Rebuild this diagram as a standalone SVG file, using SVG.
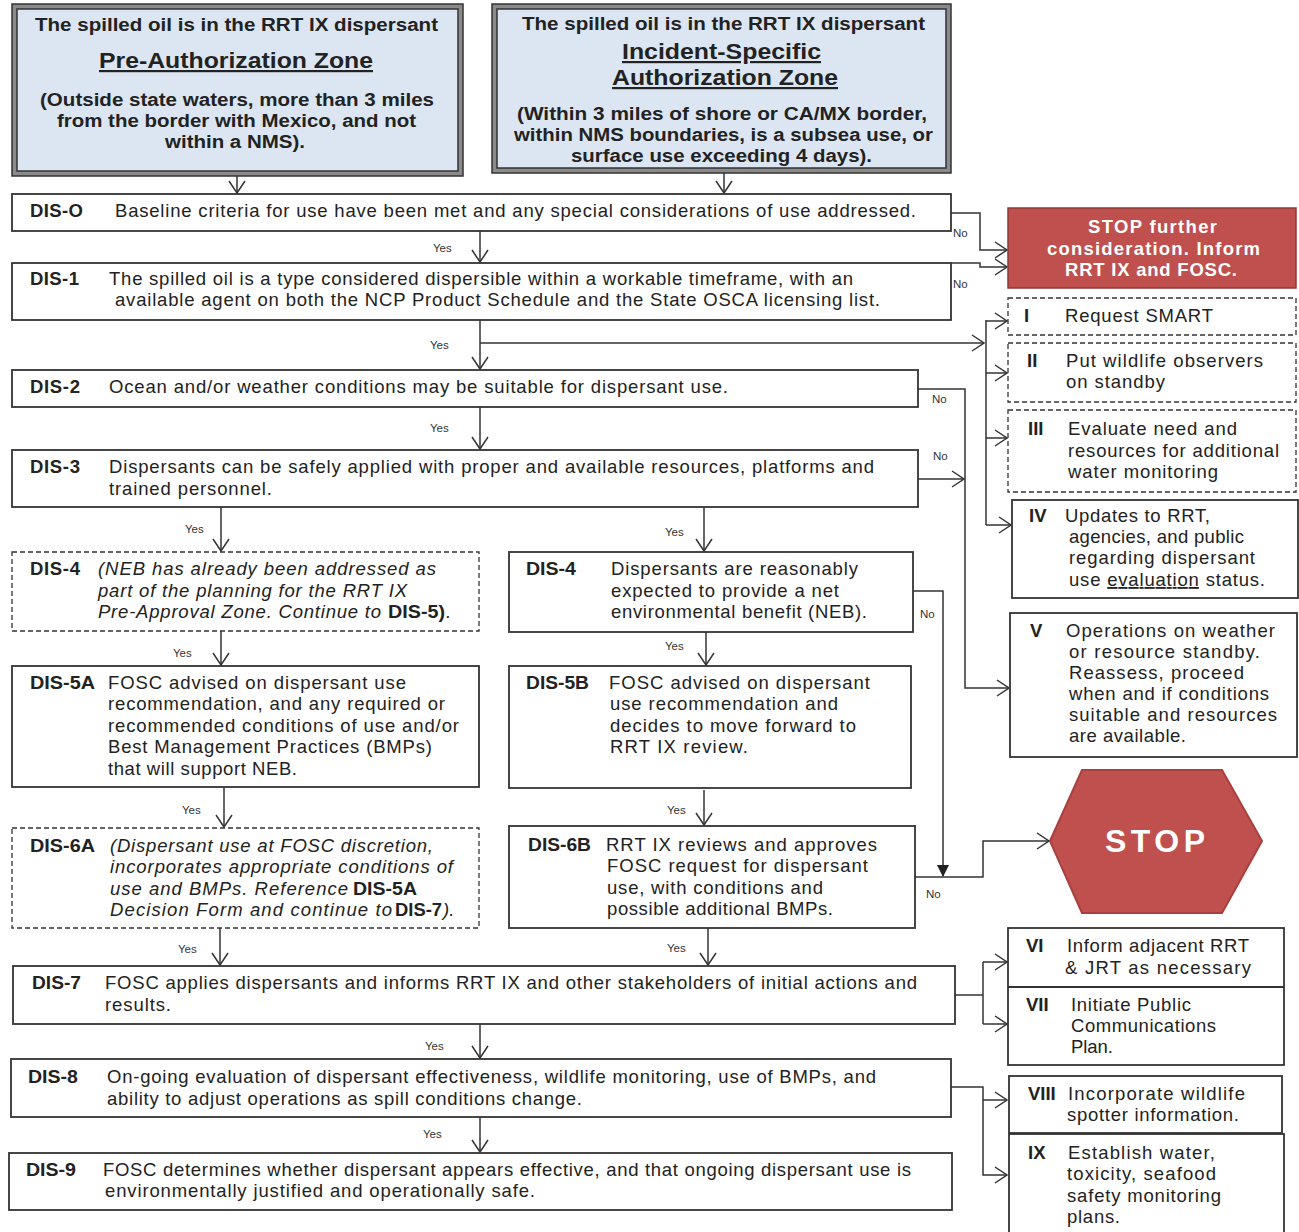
<svg xmlns="http://www.w3.org/2000/svg" width="1299" height="1232" viewBox="0 0 1299 1232">
<defs>
<style>
text{font-family:"Liberation Sans",Arial,sans-serif;font-size:18.5px;fill:#222}
.b{font-weight:bold}
.i{font-style:italic}
.t{font-size:18px;font-weight:bold}
.h{font-size:22px;font-weight:bold;text-decoration:underline}
.w{fill:#fff;font-weight:bold}
.big{font-size:32px}
.s{font-size:11.5px;fill:#333}
.box{fill:#fff;stroke:#333;stroke-width:1.8}
.dbox{fill:#fff;stroke:#333;stroke-width:1.3;stroke-dasharray:5 3}
.c{fill:none;stroke:#333;stroke-width:1.5}
.outer{fill:#8a8a8a;stroke:#333;stroke-width:1.5}
.inner{fill:#dce6f2;stroke:#333;stroke-width:1.5}
</style>
<marker id="a" markerUnits="userSpaceOnUse" viewBox="-1 -1 14 18" markerWidth="14" markerHeight="18" refX="12" refY="8" orient="auto">
<path d="M0,0 L12,8 L0,16" fill="none" stroke="#333" stroke-width="1.5"/>
</marker>
<marker id="f" markerUnits="userSpaceOnUse" viewBox="0 0 12 12" markerWidth="12" markerHeight="12" refX="11" refY="6" orient="auto">
<path d="M0,0 L12,6 L0,12 z" fill="#222"/>
</marker>
</defs>
<rect width="1299" height="1232" fill="#fff"/>

<g id="connectors">
<g class="c">
<path d="M237,176 V193" marker-end="url(#a)"/>
<path d="M724,173 V193" marker-end="url(#a)"/>
<path d="M480,231 V262" marker-end="url(#a)"/>
<path d="M950,213 H980 V250 H1007" marker-end="url(#a)"/>
<path d="M950,263 H980 V267 H1007" marker-end="url(#a)"/>
<path d="M480,320 V369" marker-end="url(#a)"/>
<path d="M480,343 H984" marker-end="url(#a)"/>
<path d="M986,320 V525"/>
<path d="M986,321 H1007" marker-end="url(#a)"/>
<path d="M986,373 H1007" marker-end="url(#a)"/>
<path d="M986,438 H1007" marker-end="url(#a)"/>
<path d="M986,525 H1011" marker-end="url(#a)"/>
<path d="M480,407 V449" marker-end="url(#a)"/>
<path d="M918,389 H965 V688 H1009" marker-end="url(#a)"/>
<path d="M918,479 H964" marker-end="url(#a)"/>
<path d="M221,507 V551" marker-end="url(#a)"/>
<path d="M704,507 V551" marker-end="url(#a)"/>
<path d="M221,631 V665" marker-end="url(#a)"/>
<path d="M706,632 V665" marker-end="url(#a)"/>
<path d="M224,787 V827" marker-end="url(#a)"/>
<path d="M704,790 V825" marker-end="url(#a)"/>
<path d="M913,591 H943 V876" marker-end="url(#f)"/>
<path d="M915,877 H983 V841 H1049" marker-end="url(#a)"/>
<path d="M220,928 V965" marker-end="url(#a)"/>
<path d="M708,928 V965" marker-end="url(#a)"/>
<path d="M955,995 H983"/>
<path d="M983,962 V1024"/>
<path d="M983,962 H1007" marker-end="url(#a)"/>
<path d="M983,1024 H1007" marker-end="url(#a)"/>
<path d="M480,1024 V1058" marker-end="url(#a)"/>
<path d="M951,1087 H983 V1175 H1007" marker-end="url(#a)"/>
<path d="M983,1100 H1007" marker-end="url(#a)"/>
<path d="M480,1117 V1152" marker-end="url(#a)"/>
</g>
<text class="s" x="433" y="252">Yes</text>
<text class="s" x="430" y="349">Yes</text>
<text class="s" x="430" y="432">Yes</text>
<text class="s" x="185" y="533">Yes</text>
<text class="s" x="665" y="536">Yes</text>
<text class="s" x="173" y="657">Yes</text>
<text class="s" x="665" y="650">Yes</text>
<text class="s" x="182" y="814">Yes</text>
<text class="s" x="667" y="814">Yes</text>
<text class="s" x="178" y="953">Yes</text>
<text class="s" x="667" y="952">Yes</text>
<text class="s" x="425" y="1050">Yes</text>
<text class="s" x="423" y="1138">Yes</text>
<text class="s" x="953" y="237">No</text>
<text class="s" x="953" y="288">No</text>
<text class="s" x="932" y="403">No</text>
<text class="s" x="933" y="460">No</text>
<text class="s" x="920" y="618">No</text>
<text class="s" x="926" y="898">No</text>
</g>

<g id="zone-pre">
<rect class="outer" x="12" y="4" width="451" height="172"/>
<rect class="inner" x="17" y="9" width="441" height="162"/>
<text class="t" x="35" y="31" textLength="403" lengthAdjust="spacingAndGlyphs">The spilled oil is in the RRT IX dispersant</text>
<text class="h" x="99" y="68" textLength="274" lengthAdjust="spacingAndGlyphs">Pre-Authorization Zone</text>
<text class="t" x="40" y="106" textLength="394" lengthAdjust="spacingAndGlyphs">(Outside state waters, more than 3 miles</text>
<text class="t" x="57" y="127" textLength="359" lengthAdjust="spacingAndGlyphs">from the border with Mexico, and not</text>
<text class="t" x="165" y="148" textLength="140" lengthAdjust="spacingAndGlyphs">within a NMS).</text>
</g>

<g id="zone-incident">
<rect class="outer" x="492" y="4" width="459" height="169"/>
<rect class="inner" x="497" y="9" width="449" height="159"/>
<text class="t" x="522" y="30" textLength="403" lengthAdjust="spacingAndGlyphs">The spilled oil is in the RRT IX dispersant</text>
<text class="h" x="622" y="59" textLength="199" lengthAdjust="spacingAndGlyphs">Incident-Specific</text>
<text class="h" x="612" y="85" textLength="226" lengthAdjust="spacingAndGlyphs">Authorization Zone</text>
<text class="t" x="517" y="120" textLength="410" lengthAdjust="spacingAndGlyphs">(Within 3 miles of shore or CA/MX border,</text>
<text class="t" x="514" y="141" textLength="419" lengthAdjust="spacingAndGlyphs">within NMS boundaries, is a subsea use, or</text>
<text class="t" x="571" y="162" textLength="301" lengthAdjust="spacingAndGlyphs">surface use exceeding 4 days).</text>
</g>

<g id="dis-0">
<rect class="box" x="12" y="194" width="939" height="37"/>
<text class="b" x="30" y="217" textLength="53">DIS-O</text>
<text x="115" y="217" textLength="801">Baseline criteria for use have been met and any special considerations of use addressed.</text>
</g>

<g id="dis-1">
<rect class="box" x="12" y="263" width="939" height="57"/>
<text class="b" x="30" y="285" textLength="49">DIS-1</text>
<text x="109" y="285" textLength="744">The spilled oil is a type considered dispersible within a workable timeframe, with an</text>
<text x="115" y="306" textLength="765">available agent on both the NCP Product Schedule and the State OSCA licensing list.</text>
</g>

<g id="dis-2">
<rect class="box" x="12" y="370" width="906" height="37"/>
<text class="b" x="30" y="393" textLength="50">DIS-2</text>
<text x="109" y="393" textLength="619">Ocean and/or weather conditions may be suitable for dispersant use.</text>
</g>

<g id="dis-3">
<rect class="box" x="12" y="450" width="906" height="57"/>
<text class="b" x="30" y="473" textLength="50">DIS-3</text>
<text x="109" y="473" textLength="765">Dispersants can be safely applied with proper and available resources, platforms and</text>
<text x="109" y="495" textLength="163">trained personnel.</text>
</g>

<g id="dis-4a">
<rect class="dbox" x="12" y="552" width="467" height="79"/>
<text class="b" x="30" y="575" textLength="50">DIS-4</text>
<text class="i" x="98" y="575" textLength="338">(NEB has already been addressed as</text>
<text class="i" x="98" y="597" textLength="309">part of the planning for the RRT IX</text>
<text class="i" x="98" y="618" textLength="283">Pre-Approval Zone. Continue to</text>
<text class="b" x="388" y="618" textLength="57" lengthAdjust="spacingAndGlyphs">DIS-5)</text>
<text class="i" x="446" y="618">.</text>
</g>

<g id="dis-5a">
<rect class="box" x="12" y="666" width="467" height="121"/>
<text class="b" x="30" y="689" textLength="65" lengthAdjust="spacingAndGlyphs">DIS-5A</text>
<text x="108" y="689" textLength="298">FOSC advised on dispersant use</text>
<text x="108" y="710" textLength="337">recommendation, and any required or</text>
<text x="108" y="732" textLength="351">recommended conditions of use and/or</text>
<text x="108" y="753" textLength="324">Best Management Practices (BMPs)</text>
<text x="108" y="775" textLength="189">that will support NEB.</text>
</g>

<g id="dis-6a">
<rect class="dbox" x="12" y="828" width="467" height="100"/>
<text class="b" x="30" y="852" textLength="65" lengthAdjust="spacingAndGlyphs">DIS-6A</text>
<text class="i" x="110" y="852" textLength="323">(Dispersant use at FOSC discretion,</text>
<text class="i" x="110" y="873" textLength="343">incorporates appropriate conditions of</text>
<text class="i" x="110" y="895" textLength="238">use and BMPs. Reference</text>
<text class="b" x="353" y="895" textLength="64" lengthAdjust="spacingAndGlyphs">DIS-5A</text>
<text class="i" x="110" y="916" textLength="282">Decision Form and continue to</text>
<text class="b" x="395" y="916" textLength="47" lengthAdjust="spacingAndGlyphs">DIS-7</text>
<text class="i" x="443" y="916">).</text>
</g>

<g id="dis-4b">
<rect class="box" x="509" y="552" width="404" height="80"/>
<text class="b" x="526" y="575" textLength="50" lengthAdjust="spacingAndGlyphs">DIS-4</text>
<text x="611" y="575" textLength="247">Dispersants are reasonably</text>
<text x="611" y="597" textLength="228">expected to provide a net</text>
<text x="611" y="618" textLength="256">environmental benefit (NEB).</text>
</g>

<g id="dis-5b">
<rect class="box" x="509" y="666" width="402" height="122"/>
<text class="b" x="526" y="689" textLength="63" lengthAdjust="spacingAndGlyphs">DIS-5B</text>
<text x="609" y="689" textLength="261">FOSC advised on dispersant</text>
<text x="610" y="710" textLength="228">use recommendation and</text>
<text x="610" y="732" textLength="246">decides to move forward to</text>
<text x="610" y="753" textLength="138">RRT IX review.</text>
</g>

<g id="dis-6b">
<rect class="box" x="509" y="826" width="406" height="102"/>
<text class="b" x="528" y="851" textLength="63" lengthAdjust="spacingAndGlyphs">DIS-6B</text>
<text x="606" y="851" textLength="271">RRT IX reviews and approves</text>
<text x="607" y="872" textLength="261">FOSC request for dispersant</text>
<text x="607" y="894" textLength="216">use, with conditions and</text>
<text x="607" y="915" textLength="226">possible additional BMPs.</text>
</g>

<g id="dis-7">
<rect class="box" x="13" y="966" width="942" height="58"/>
<text class="b" x="32" y="989" textLength="49" lengthAdjust="spacingAndGlyphs">DIS-7</text>
<text x="105" y="989" textLength="812">FOSC applies dispersants and informs RRT IX and other stakeholders of initial actions and</text>
<text x="105" y="1011" textLength="66">results.</text>
</g>

<g id="dis-8">
<rect class="box" x="11" y="1059" width="940" height="58"/>
<text class="b" x="28" y="1083" textLength="50" lengthAdjust="spacingAndGlyphs">DIS-8</text>
<text x="107" y="1083" textLength="769">On-going evaluation of dispersant effectiveness, wildlife monitoring, use of BMPs, and</text>
<text x="107" y="1105" textLength="475">ability to adjust operations as spill conditions change.</text>
</g>

<g id="dis-9">
<rect class="box" x="9" y="1153" width="943" height="57"/>
<text class="b" x="26" y="1176" textLength="50" lengthAdjust="spacingAndGlyphs">DIS-9</text>
<text x="103" y="1176" textLength="808">FOSC determines whether dispersant appears effective, and that ongoing dispersant use is</text>
<text x="105" y="1197" textLength="430">environmentally justified and operationally safe.</text>
</g>

<g id="stop-box">
<rect x="1008" y="208" width="288" height="80" fill="#c0504d" stroke="#8c3836" stroke-width="1.5"/>
<text class="w" x="1088" y="233" textLength="129">STOP further</text>
<text class="w" x="1047" y="255" textLength="213">consideration. Inform</text>
<text class="w" x="1065" y="276" textLength="172">RRT IX and FOSC.</text>
</g>

<g id="step-i">
<rect class="dbox" x="1008" y="298" width="288" height="37"/>
<text class="b" x="1024" y="322">I</text>
<text x="1065" y="322" textLength="148">Request SMART</text>
</g>

<g id="step-ii">
<rect class="dbox" x="1008" y="343" width="288" height="59"/>
<text class="b" x="1027" y="367">II</text>
<text x="1066" y="367" textLength="197">Put wildlife observers</text>
<text x="1066" y="388" textLength="99">on standby</text>
</g>

<g id="step-iii">
<rect class="dbox" x="1008" y="410" width="288" height="82"/>
<text class="b" x="1028" y="435">III</text>
<text x="1068" y="435" textLength="169">Evaluate need and</text>
<text x="1068" y="457" textLength="211">resources for additional</text>
<text x="1068" y="478" textLength="150">water monitoring</text>
</g>

<g id="step-iv">
<rect class="box" x="1012" y="500" width="286" height="98"/>
<text class="b" x="1029" y="522">IV</text>
<text x="1065" y="522" textLength="145">Updates to RRT,</text>
<text x="1069" y="543" textLength="175">agencies, and public</text>
<text x="1069" y="564" textLength="186">regarding dispersant</text>
<text x="1069" y="586" textLength="196">use <tspan text-decoration="underline">evaluation</tspan> status.</text>
</g>

<g id="step-v">
<rect class="box" x="1010" y="613" width="287" height="144"/>
<text class="b" x="1030" y="637">V</text>
<text x="1066" y="637" textLength="209">Operations on weather</text>
<text x="1069" y="658" textLength="191">or resource standby.</text>
<text x="1069" y="679" textLength="175">Reassess, proceed</text>
<text x="1069" y="700" textLength="200">when and if conditions</text>
<text x="1069" y="721" textLength="208">suitable and resources</text>
<text x="1069" y="742" textLength="117">are available.</text>
</g>

<g id="stop-sign">
<polygon points="1050,841 1082,770 1222,770 1262,841 1222,913 1082,913" fill="#c0504d" stroke="#a8413e" stroke-width="2"/>
<text class="w big" x="1105" y="852" textLength="100">STOP</text>
</g>

<g id="step-vi-vii">
<rect class="box" x="1008" y="928" width="276" height="137"/>
<line x1="1008" y1="987" x2="1284" y2="987" stroke="#333" stroke-width="1.8"/>
<text class="b" x="1026" y="952">VI</text>
<text x="1067" y="952" textLength="182">Inform adjacent RRT</text>
<text x="1065" y="974" textLength="186">&amp; JRT as necessary</text>
<text class="b" x="1026" y="1011">VII</text>
<text x="1071" y="1011" textLength="120">Initiate Public</text>
<text x="1071" y="1032" textLength="145">Communications</text>
<text x="1071" y="1053" textLength="42">Plan.</text>
</g>

<g id="step-viii">
<rect class="box" x="1009" y="1076" width="273" height="57"/>
<text class="b" x="1028" y="1100">VIII</text>
<text x="1068" y="1100" textLength="177">Incorporate wildlife</text>
<text x="1067" y="1121" textLength="172">spotter information.</text>
</g>

<g id="step-ix">
<rect class="box" x="1009" y="1134" width="275" height="110"/>
<text class="b" x="1028" y="1159">IX</text>
<text x="1068" y="1159" textLength="147">Establish water,</text>
<text x="1067" y="1180" textLength="149">toxicity, seafood</text>
<text x="1067" y="1202" textLength="154">safety monitoring</text>
<text x="1067" y="1223" textLength="53">plans.</text>
</g>
</svg>
